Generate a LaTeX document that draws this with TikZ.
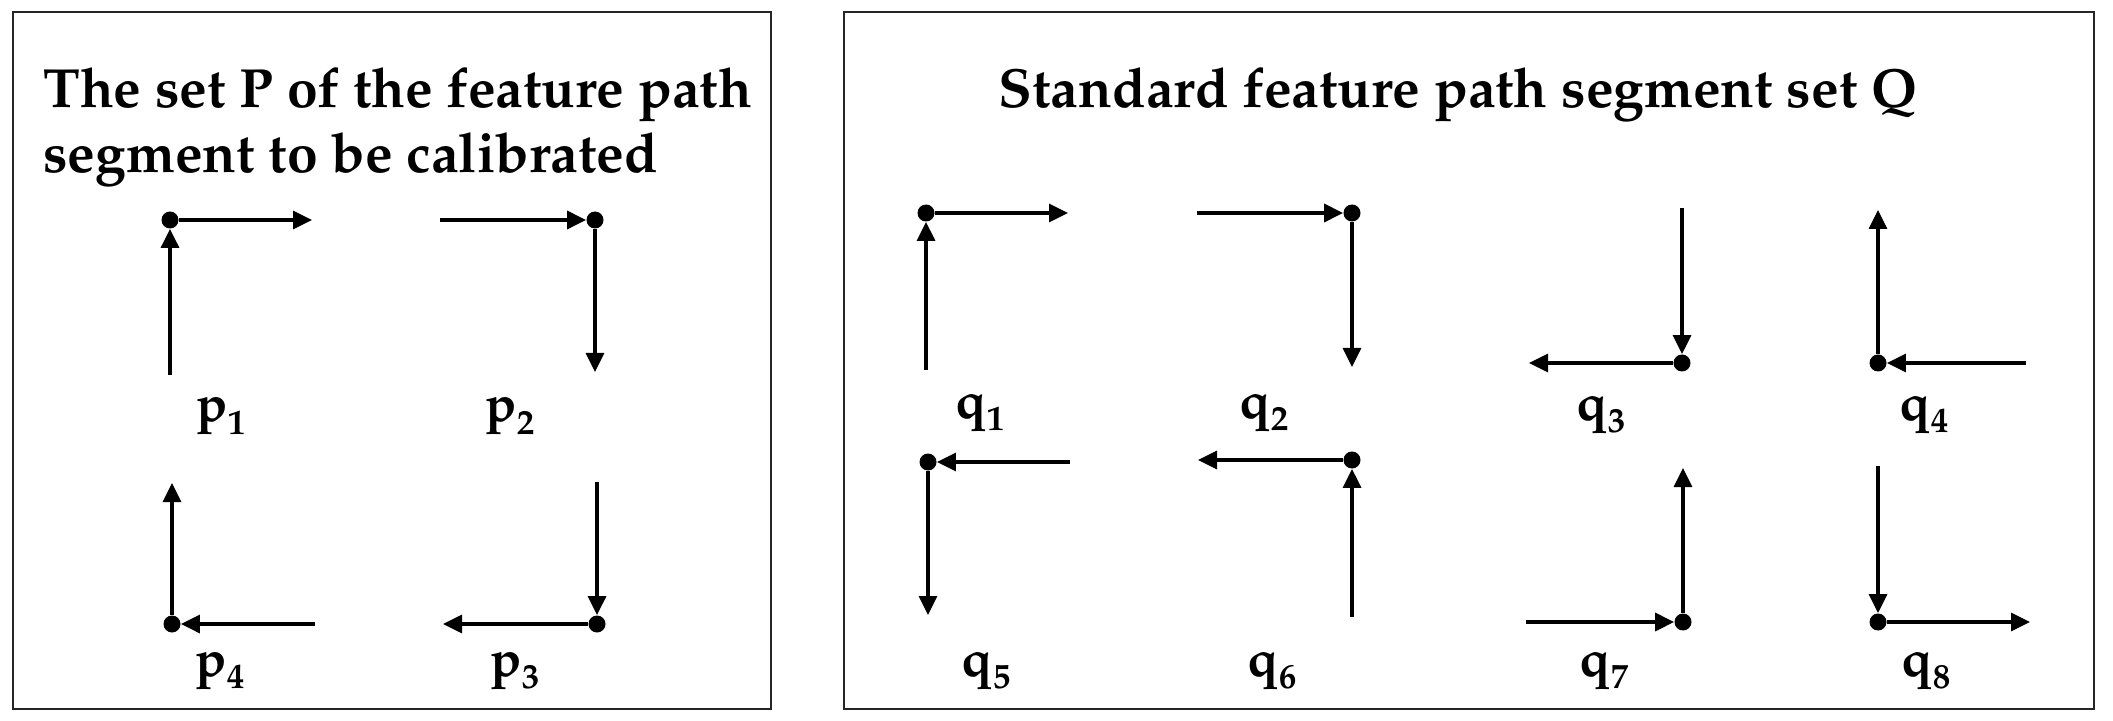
\documentclass[tikz,border=0pt]{standalone}
\usepackage[T1]{fontenc}
\usepackage{mathpazo}
\usetikzlibrary{arrows.meta}
\tikzset{
  seg/.style={line width=1.6pt, -{Triangle[length=9.5pt,width=9pt]}},
  dotn/.style={circle, fill=black, inner sep=0pt, minimum size=8.5pt},
  frame/.style={line width=1.4pt, draw=black!85},
  ttl/.style={font=\fontsize{27.6}{34}\selectfont\bfseries, inner sep=0pt},
  lbl/.style={font=\fontsize{25.5}{30}\selectfont\bfseries, inner sep=0pt, anchor=base},
}
\newcommand{\seglbl}[2]{#1\raisebox{-0.25em}{\fontsize{17.5}{20}\selectfont #2}}
\begin{document}
\begin{tikzpicture}[x=0.5pt,y=-0.5pt]
\useasboundingbox (0,0) rectangle (2113,721);
\fill[white] (0,0) rectangle (2113,721);
% frames
\draw[frame] (13,12) rectangle (771,709);
\draw[frame] (844,12) rectangle (2094,709);
% titles
\node[ttl, anchor=base west] (tP1) at (43,108) {The set P of the feature path};
\node[ttl, anchor=base west] (tP2) at (43,173) {segment to be calibrated};
\node[ttl, anchor=base] (tQ) at (1458,108) {Standard feature path segment set Q};

% ---- set P ----
% p1
\node[dotn] (p1d) at (170,220) {};
\coordinate (p1h) at (312,220);
\coordinate (p1v) at (170,375);
\draw[seg] (p1d) -- (p1h);
\draw[seg] (p1v) -- (p1d);
% p2
\node[dotn] (p2d) at (595,220) {};
\coordinate (p2h) at (440,220);
\coordinate (p2v) at (595,372);
\draw[seg] (p2h) -- (p2d);
\draw[seg] (p2d) -- (p2v);
% p3
\node[dotn] (p3d) at (597,624) {};
\coordinate (p3v) at (597,482);
\coordinate (p3h) at (443,624);
\draw[seg] (p3v) -- (p3d);
\draw[seg] (p3d) -- (p3h);
% p4
\node[dotn] (p4d) at (172,624) {};
\coordinate (p4v) at (172,483);
\coordinate (p4h) at (315,624);
\draw[seg] (p4d) -- (p4v);
\draw[seg] (p4h) -- (p4d);
% labels
\node[lbl] (p1l) at (221,422) {\seglbl{p}{1}};
\node[lbl] (p2l) at (510,422) {\seglbl{p}{2}};
\node[lbl] (p3l) at (515,676) {\seglbl{p}{3}};
\node[lbl] (p4l) at (220,676) {\seglbl{p}{4}};

% ---- set Q ----
% q1
\node[dotn] (q1d) at (926,213) {};
\coordinate (q1h) at (1068,213);
\coordinate (q1v) at (926,370);
\draw[seg] (q1d) -- (q1h);
\draw[seg] (q1v) -- (q1d);
% q2
\node[dotn] (q2d) at (1352,213) {};
\coordinate (q2h) at (1197,213);
\coordinate (q2v) at (1352,367);
\draw[seg] (q2h) -- (q2d);
\draw[seg] (q2d) -- (q2v);
% q3
\node[dotn] (q3d) at (1682,363) {};
\coordinate (q3v) at (1682,208);
\coordinate (q3h) at (1529,363);
\draw[seg] (q3v) -- (q3d);
\draw[seg] (q3d) -- (q3h);
% q4
\node[dotn] (q4d) at (1878,363) {};
\coordinate (q4v) at (1878,210);
\coordinate (q4h) at (2026,363);
\draw[seg] (q4d) -- (q4v);
\draw[seg] (q4h) -- (q4d);
% q5
\node[dotn] (q5d) at (928,462) {};
\coordinate (q5h) at (1070,462);
\coordinate (q5v) at (928,615);
\draw[seg] (q5h) -- (q5d);
\draw[seg] (q5d) -- (q5v);
% q6
\node[dotn] (q6d) at (1352,460) {};
\coordinate (q6h) at (1198,460);
\coordinate (q6v) at (1352,617);
\draw[seg] (q6d) -- (q6h);
\draw[seg] (q6v) -- (q6d);
% q7
\node[dotn] (q7d) at (1683,622) {};
\coordinate (q7h) at (1526,622);
\coordinate (q7v) at (1683,468);
\draw[seg] (q7h) -- (q7d);
\draw[seg] (q7d) -- (q7v);
% q8
\node[dotn] (q8d) at (1878,622) {};
\coordinate (q8v) at (1878,466);
\coordinate (q8h) at (2030,622);
\draw[seg] (q8v) -- (q8d);
\draw[seg] (q8d) -- (q8h);
% labels
\node[lbl] (q1l) at (980,418) {\seglbl{q}{1}};
\node[lbl] (q2l) at (1264,418) {\seglbl{q}{2}};
\node[lbl] (q3l) at (1601,420) {\seglbl{q}{3}};
\node[lbl] (q4l) at (1924,420) {\seglbl{q}{4}};
\node[lbl] (q5l) at (986,676) {\seglbl{q}{5}};
\node[lbl] (q6l) at (1272,676) {\seglbl{q}{6}};
\node[lbl] (q7l) at (1604,676) {\seglbl{q}{7}};
\node[lbl] (q8l) at (1926,676) {\seglbl{q}{8}};
\end{tikzpicture}
\end{document}
